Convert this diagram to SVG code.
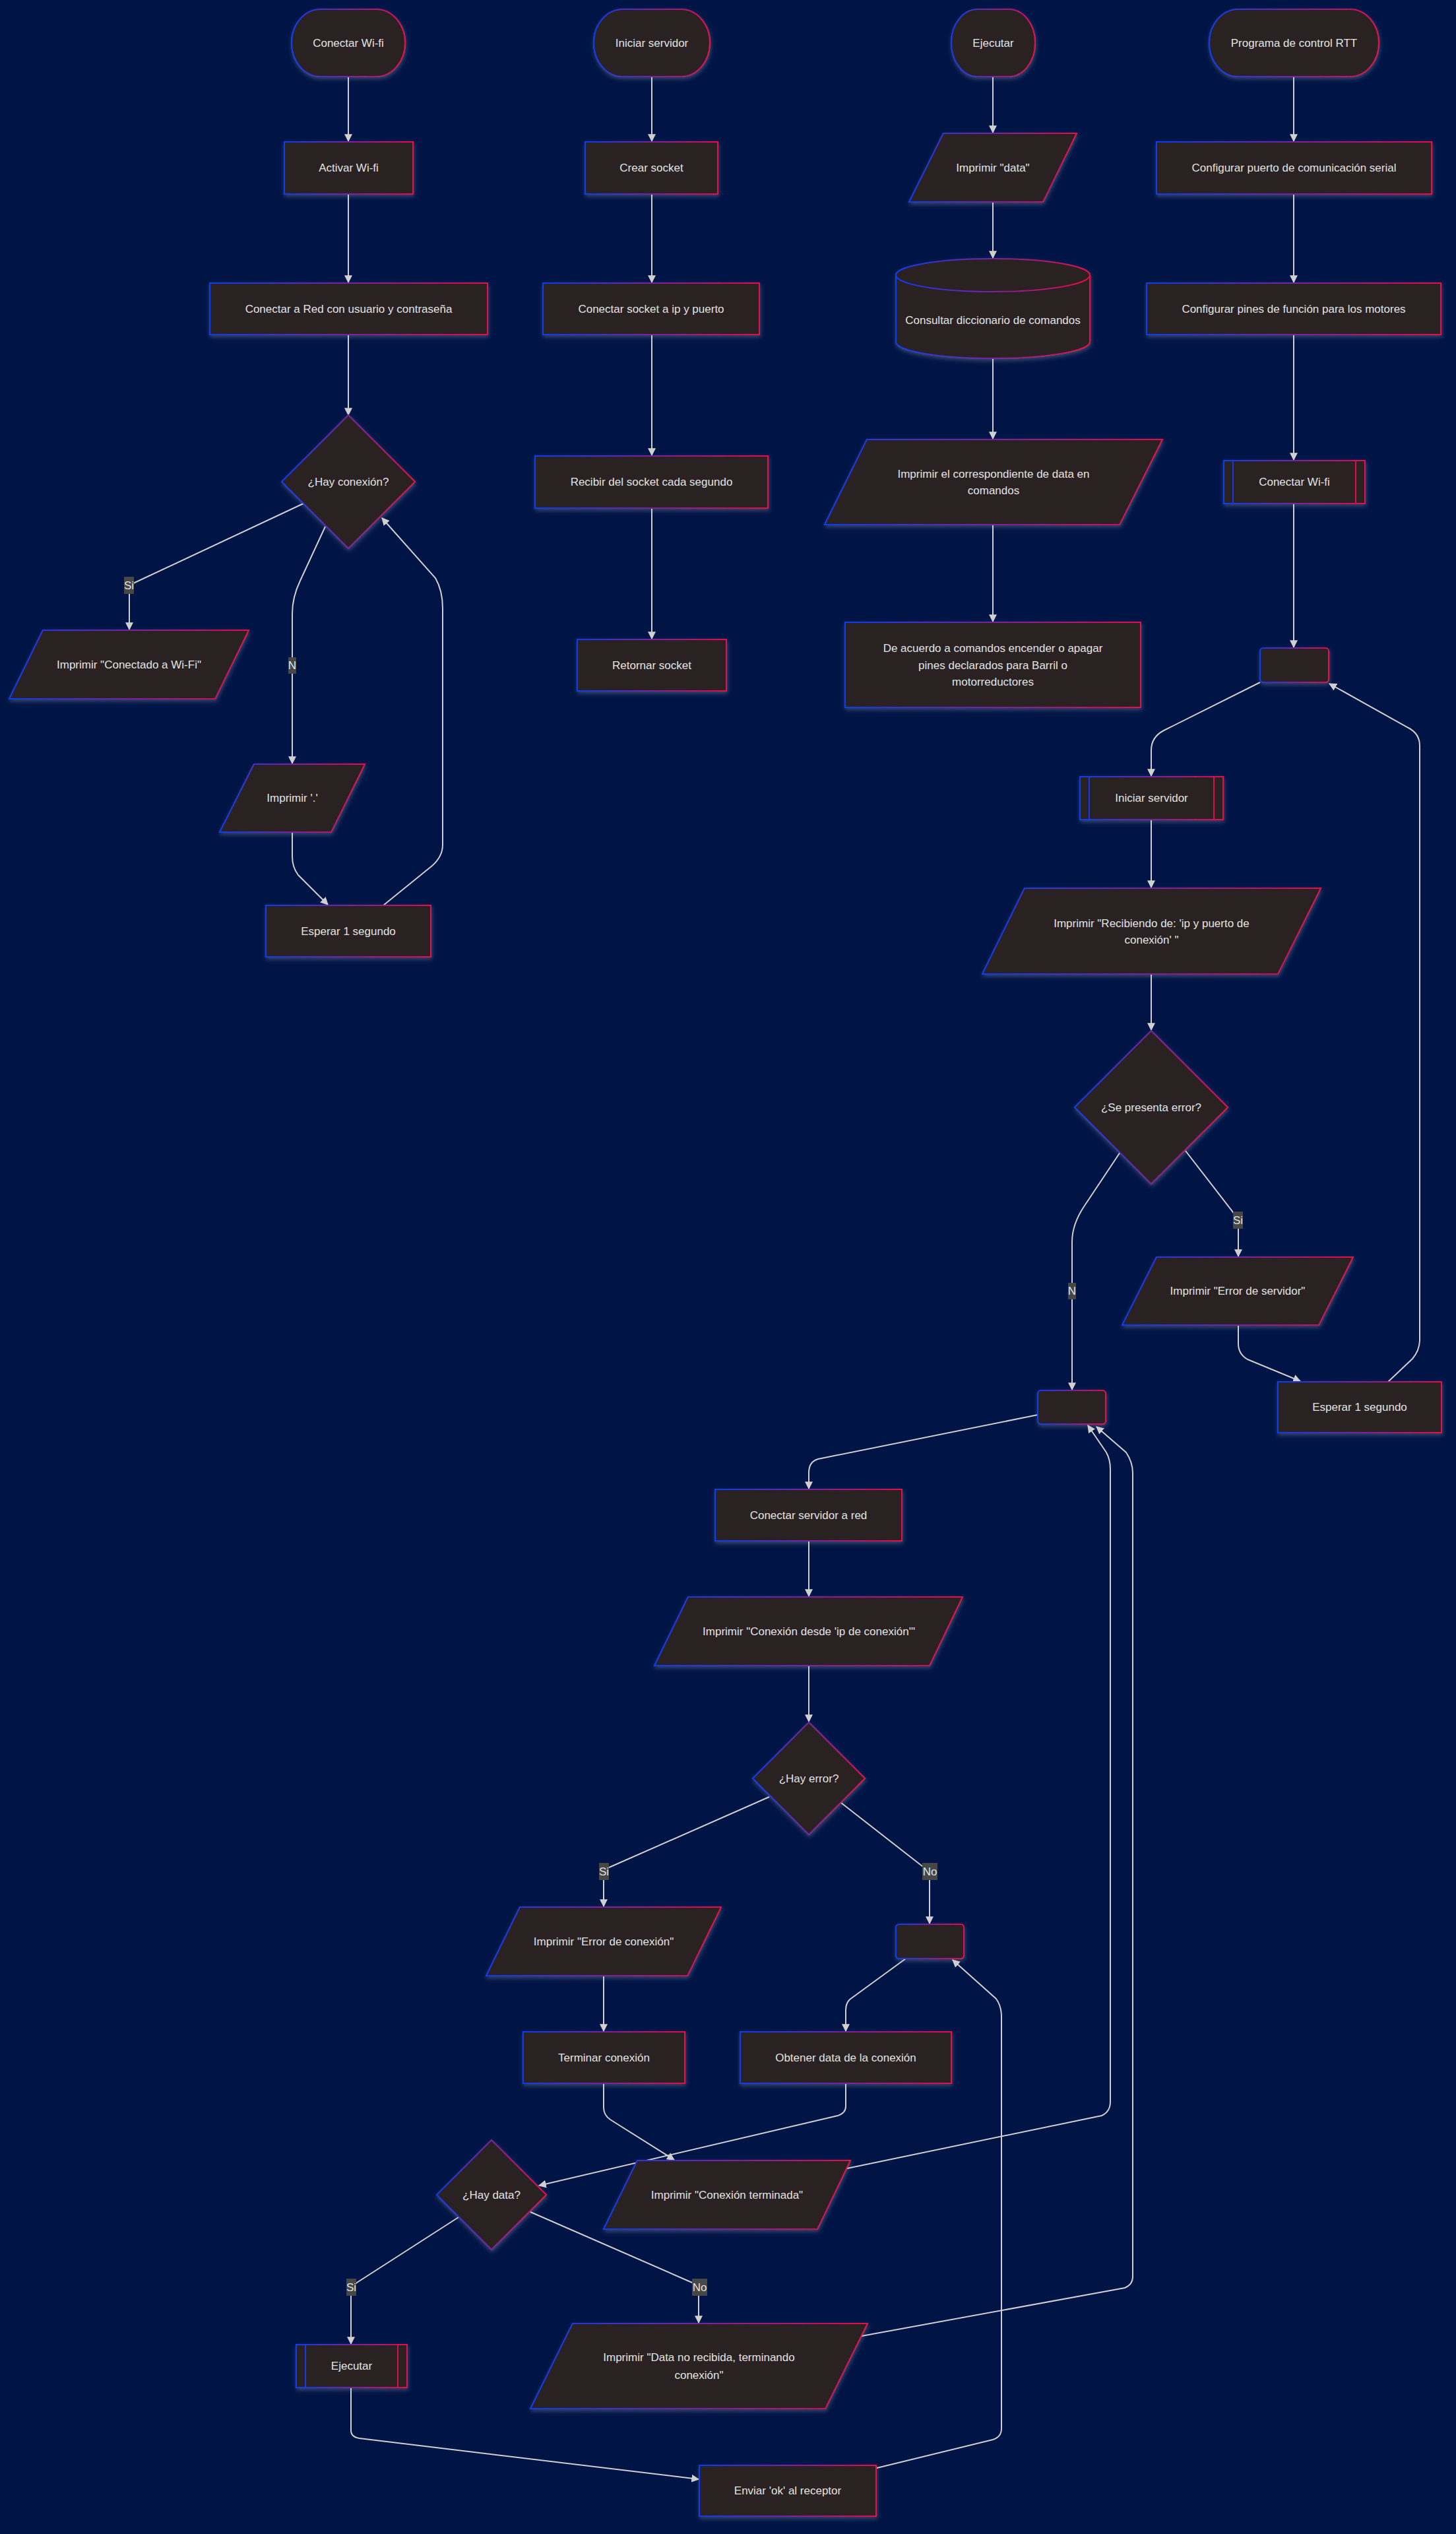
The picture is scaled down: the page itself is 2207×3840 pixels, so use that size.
<svg xmlns="http://www.w3.org/2000/svg" width="2207" height="3840" viewBox="0 0 2207 3840">
<defs>
<linearGradient id="g" x1="0" y1="0" x2="1" y2="0">
<stop offset="0" stop-color="#0a3cf5"/>
<stop offset="1" stop-color="#ea0848"/>
</linearGradient>
<filter id="sh" x="-10%" y="-10%" width="120%" height="130%">
<feDropShadow dx="1" dy="3" stdDeviation="3" flood-color="#b9b9b9" flood-opacity="0.3"/>
</filter>
<marker id="arr" viewBox="0 0 10 10" refX="9" refY="5" markerUnits="userSpaceOnUse" markerWidth="12" markerHeight="12" orient="auto">
<path d="M0,0 L10,5 L0,10 z" fill="#d0d0d0"/>
</marker>
</defs>
<style>
.n rect, .n path, .n polygon { fill:#2c2120; stroke:url(#g); stroke-width:2; filter:url(#sh); }
text { font-family:"Liberation Sans", Arial, sans-serif; font-size:17px; fill:#e2e2e2; text-anchor:middle; dominant-baseline:central; }
.e { fill:none; stroke:#cfcfcf; stroke-width:2; marker-end:url(#arr); }
.lb rect { fill:#474747; }
</style>
<rect x="0" y="0" width="2207" height="3840" fill="#001446"/>

<g id="edges">
<path class="e" d="M528,116 L528,214"/>
<path class="e" d="M528,294 L528,428"/>
<path class="e" d="M528,507 L528,629"/>
<path class="e" d="M460,763 L204,883 Q196,888 196,897 L196,954"/>
<path class="e" d="M493,798 L455,880 Q443,905 443,930 L443,1157"/>
<path class="e" d="M443,1261 L443,1298 Q443,1314 452,1326 L497,1371"/>
<path class="e" d="M581,1372 L655,1312 Q671,1298 671,1280 L671,922 Q671,895 660,876 L579,785"/>

<path class="e" d="M988,116 L988,214"/>
<path class="e" d="M988,294 L988,428"/>
<path class="e" d="M988,507 L988,690"/>
<path class="e" d="M988,770 L988,968"/>

<path class="e" d="M1505,116 L1505,201"/>
<path class="e" d="M1505,306 L1505,391"/>
<path class="e" d="M1505,543 L1505,665"/>
<path class="e" d="M1505,795 L1505,942"/>

<path class="e" d="M1961,116 L1961,214"/>
<path class="e" d="M1961,294 L1961,428"/>
<path class="e" d="M1961,507 L1961,697"/>
<path class="e" d="M1961,763 L1961,981"/>
<path class="e" d="M1910,1034 L1764,1107 Q1745,1117 1745,1137 L1745,1176"/>
<path class="e" d="M1745,1242 L1745,1345"/>
<path class="e" d="M1745,1476 L1745,1561"/>
<path class="e" d="M1797,1744 L1866,1833 Q1877,1846 1877,1862 L1877,1904"/>
<path class="e" d="M1698,1746 L1644,1827 Q1625,1855 1625,1882 L1625,2106"/>
<path class="e" d="M1877,2008 L1877,2036 Q1877,2052 1891,2060 L1971,2093"/>
<path class="e" d="M2104,2094 L2141,2059 Q2152,2046 2152,2030 L2152,1130 Q2152,1112 2135,1103 L2015,1036"/>

<path class="e" d="M1573,2144 L1240,2211 Q1226,2215 1226,2232 L1226,2256"/>
<path class="e" d="M1226,2335 L1226,2419"/>
<path class="e" d="M1226,2524 L1226,2609"/>
<path class="e" d="M1166,2723 L923,2830 Q915,2835 915,2846 L915,2889"/>
<path class="e" d="M1275,2732 L1398,2828 Q1409,2836 1409,2847 L1409,2915"/>
<path class="e" d="M915,2994 L915,3078"/>
<path class="e" d="M1373,2968 L1288,3030 Q1282,3036 1282,3046 L1282,3078"/>
<path class="e" d="M915,3157 L915,3194 Q915,3205 925,3212 L1022,3273"/>
<path class="e" d="M1282,3157 L1282,3192 Q1282,3202 1270,3206 L817,3312"/>
<path class="e" d="M1284,3286 L1670,3206 Q1683,3200 1683,3185 L1683,2226 Q1683,2212 1677,2201 L1649,2160"/>
<path class="e" d="M1306,3540 L1705,3467 Q1717,3462 1717,3450 L1717,2232 Q1717,2216 1707,2201 L1662,2162"/>
<path class="e" d="M695,3360 L541,3459 Q532,3466 532,3478 L532,3552"/>
<path class="e" d="M804,3352 L1049,3459 Q1059,3465 1059,3478 L1059,3520"/>
<path class="e" d="M532,3618 L532,3683 Q532,3693 545,3695 L1059,3757"/>
<path class="e" d="M1329,3740 L1505,3697 Q1518,3693 1518,3680 L1518,3056 Q1518,3040 1510,3029 L1444,2970"/>

<g class="lb"><rect x="188" y="874" width="15" height="26"/><text x="195.5" y="887">Si</text></g>
<g class="lb"><rect x="437" y="996" width="12" height="25"/><text x="443" y="1008">N</text></g>
<g class="lb"><rect x="1869" y="1836" width="15" height="26"/><text x="1876.5" y="1849">Si</text></g>
<g class="lb"><rect x="1619" y="1944" width="12" height="25"/><text x="1625" y="1956">N</text></g>
<g class="lb"><rect x="908" y="2823" width="15" height="26"/><text x="915.5" y="2836">Si</text></g>
<g class="lb"><rect x="1398" y="2823" width="23" height="26"/><text x="1409.5" y="2836">No</text></g>
<g class="lb"><rect x="525" y="3453" width="15" height="26"/><text x="532.5" y="3466">Si</text></g>
<g class="lb"><rect x="1049" y="3453" width="23" height="26"/><text x="1060.5" y="3466">No</text></g>
</g>

<g id="n1" class="n"><rect x="442" y="14" width="172" height="102" rx="44" ry="51"/><text x="528" y="65">Conectar Wi-fi</text></g>
<g id="n2" class="n"><rect x="431" y="215" width="195" height="79"/><text x="528.5" y="254.5">Activar Wi-fi</text></g>
<g id="n3" class="n"><rect x="318" y="429" width="421" height="78"/><text x="528.5" y="468">Conectar a Red con usuario y contraseña</text></g>
<g id="n4" class="n"><polygon points="528,629 629,730 528,831 427,730"/><text x="528" y="730">¿Hay conexión?</text></g>
<g id="n5" class="n"><polygon points="65,955 377,955 326,1059 14,1059"/><text x="195.5" y="1007">Imprimir "Conectado a Wi-Fi"</text></g>
<g id="n6" class="n"><polygon points="385,1158 553,1158 502,1261 333,1261"/><text x="443" y="1209.5">Imprimir '.'</text></g>
<g id="n7" class="n"><rect x="403" y="1372" width="250" height="78"/><text x="528" y="1411">Esperar 1 segundo</text></g>

<g id="n8" class="n"><rect x="900" y="14" width="176" height="102" rx="44" ry="51"/><text x="988" y="65">Iniciar servidor</text></g>
<g id="n9" class="n"><rect x="887" y="215" width="201" height="79"/><text x="987.5" y="254.5">Crear socket</text></g>
<g id="n10" class="n"><rect x="823" y="429" width="328" height="78"/><text x="987" y="468">Conectar socket a ip y puerto</text></g>
<g id="n11" class="n"><rect x="811" y="691" width="353" height="79"/><text x="987.5" y="730.5">Recibir del socket cada segundo</text></g>
<g id="n12" class="n"><rect x="875" y="969" width="226" height="78"/><text x="988" y="1008">Retornar socket</text></g>

<g id="n13" class="n"><rect x="1442" y="14" width="127" height="102" rx="40" ry="51"/><text x="1505.5" y="65">Ejecutar</text></g>
<g id="n14" class="n"><polygon points="1430,202 1632,202 1581,306 1378,306"/><text x="1505" y="254">Imprimir "data"</text></g>
<g id="n15" class="n"><path d="M1358,417 a147,25 0 0,0 294,0 a147,25 0 0,0 -294,0 l0,101 a147,25 0 0,0 294,0 l0,-101"/><text x="1505" y="485">Consultar diccionario de comandos</text></g>
<g id="n16" class="n"><polygon points="1314,666 1762,666 1697,795 1250,795"/><text x="1506" y="718.5">Imprimir el correspondiente de data en</text><text x="1506" y="743">comandos</text></g>
<g id="n17" class="n"><rect x="1281" y="943" width="448" height="129"/><text x="1505" y="982">De acuerdo a comandos encender o apagar</text><text x="1505" y="1008">pines declarados para Barril o</text><text x="1505" y="1033.5">motorreductores</text></g>

<g id="n18" class="n"><rect x="1833" y="14" width="257" height="102" rx="44" ry="51"/><text x="1961.5" y="65">Programa de control RTT</text></g>
<g id="n19" class="n"><rect x="1753" y="215" width="417" height="79"/><text x="1961.5" y="254.5">Configurar puerto de comunicación serial</text></g>
<g id="n20" class="n"><rect x="1738" y="429" width="446" height="78"/><text x="1961" y="468">Configurar pines de función para los motores</text></g>
<g id="n21" class="n"><path d="M1855,698 H2069 V763 H1855 Z M1869,698 V763 M2055,698 V763"/><text x="1962" y="730.5">Conectar Wi-fi</text></g>
<g id="n22" class="n"><rect x="1910" y="982" width="104" height="52" rx="5"/></g>
<g id="n23" class="n"><path d="M1637,1177 H1854 V1242 H1637 Z M1651,1177 V1242 M1840,1177 V1242"/><text x="1745.5" y="1209.5">Iniciar servidor</text></g>
<g id="n24" class="n"><polygon points="1553,1346 2002,1346 1937,1476 1489,1476"/><text x="1745.5" y="1399">Imprimir "Recibiendo de: 'ip y puerto de</text><text x="1745.5" y="1424">conexión' "</text></g>
<g id="n25" class="n"><polygon points="1745,1562 1861,1678 1745,1794 1629,1678"/><text x="1745" y="1678">¿Se presenta error?</text></g>
<g id="n26" class="n"><polygon points="1753,1905 2051,1905 1999,2008 1701,2008"/><text x="1876" y="1956.5">Imprimir "Error de servidor"</text></g>
<g id="n27" class="n"><rect x="1937" y="2094" width="248" height="77"/><text x="2061" y="2132.5">Esperar 1 segundo</text></g>
<g id="n28" class="n"><rect x="1573" y="2107" width="103" height="51" rx="5"/></g>
<g id="n29" class="n"><rect x="1084" y="2257" width="283" height="78"/><text x="1225.5" y="2296">Conectar servidor a red</text></g>
<g id="n30" class="n"><polygon points="1043,2420 1459,2420 1409,2524 992,2524"/><text x="1226" y="2472">Imprimir "Conexión desde 'ip de conexión'"</text></g>
<g id="n31" class="n"><polygon points="1226,2610 1311,2695 1226,2780 1141,2695"/><text x="1226" y="2695">¿Hay error?</text></g>
<g id="n32" class="n"><polygon points="788,2890 1093,2890 1042,2994 737,2994"/><text x="915" y="2942">Imprimir "Error de conexión"</text></g>
<g id="n33" class="n"><rect x="1358" y="2916" width="103" height="52" rx="5"/></g>
<g id="n34" class="n"><rect x="793" y="3079" width="245" height="78"/><text x="915.5" y="3118">Terminar conexión</text></g>
<g id="n35" class="n"><rect x="1122" y="3079" width="320" height="78"/><text x="1282" y="3118">Obtener data de la conexión</text></g>
<g id="n36" class="n"><polygon points="745,3243 828,3326 745,3409 662,3326"/><text x="745" y="3326">¿Hay data?</text></g>
<g id="n37" class="n"><polygon points="966,3274 1289,3274 1239,3378 915,3378"/><text x="1102" y="3326">Imprimir "Conexión terminada"</text></g>
<g id="n38" class="n"><path d="M449,3553 H617 V3618 H449 Z M463,3553 V3618 M603,3553 V3618"/><text x="533" y="3585.5">Ejecutar</text></g>
<g id="n39" class="n"><polygon points="868,3521 1315,3521 1251,3650 804,3650"/><text x="1059.5" y="3572">Imprimir "Data no recibida, terminando</text><text x="1059.5" y="3599">conexión"</text></g>
<g id="n40" class="n"><rect x="1060" y="3736" width="268" height="77"/><text x="1194" y="3774.5">Enviar 'ok' al receptor</text></g>
</svg>
